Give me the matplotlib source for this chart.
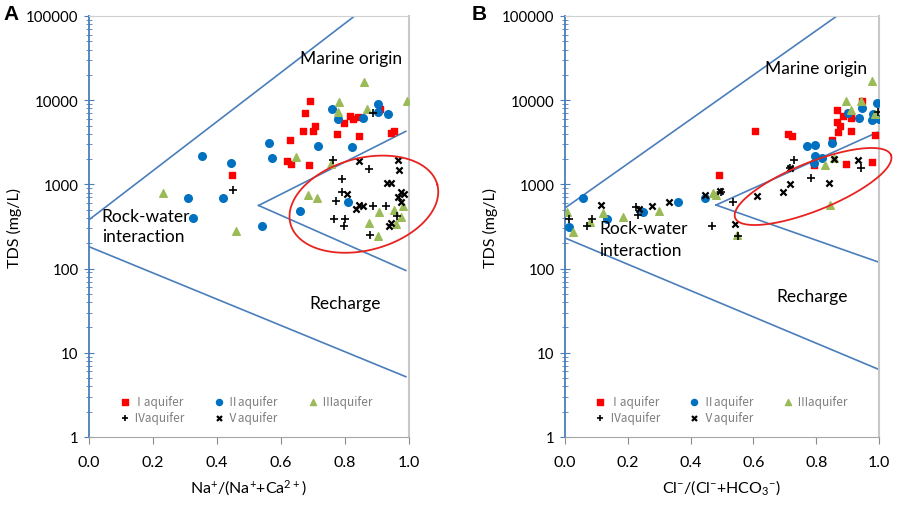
import numpy as np
import matplotlib
matplotlib.use('Agg')
import matplotlib.pyplot as plt
from matplotlib import ticker

plt.rcParams['font.family'] = ['Lato', 'DejaVu Sans']
plt.rcParams['mathtext.default'] = 'regular'

# ---- panel A : Na+/(Na+ + Ca2+) vs TDS ----
a_I_x = [0.691, 0.675, 0.706, 0.700, 0.669, 0.628, 0.619, 0.631, 0.688, 0.447,
         0.775, 0.797, 0.816, 0.825, 0.844, 0.841, 0.909, 0.944, 0.953]
a_I_tds = [9800, 7050, 4930, 4300, 4300, 3370, 1900, 1750, 1700, 1290,
           3970, 5360, 6490, 5980, 3760, 6300, 7860, 4070, 4300]
a_II_x = [0.759, 0.778, 0.856, 0.903, 0.903, 0.934, 0.563, 0.716, 0.822,
          0.572, 0.353, 0.444, 0.309, 0.419, 0.325, 0.541, 0.659, 0.809]
a_II_tds = [7860, 5980, 6150, 9010, 7250, 6850, 3100, 2860, 2780,
            2060, 2170, 1790, 690, 690, 400, 320, 483, 618]
a_III_x = [0.859, 0.781, 0.778, 0.869, 0.994, 0.647, 0.756, 0.231, 0.684,
           0.713, 0.459, 0.906, 0.875, 0.903, 0.953, 0.975, 0.959, 0.981]
a_III_tds = [16400, 9530, 7250, 7860, 9770, 2110, 1750, 790, 750,
             690, 280, 470, 350, 244, 497, 410, 339, 553]
a_IV_x = [0.888, 0.450, 0.763, 0.791, 0.791, 0.772, 0.875, 0.888, 0.928,
          0.766, 0.800, 0.797, 0.878, 0.963]
a_IV_tds = [7050, 857, 1950, 1160, 812, 635, 1520, 553, 553,
            388, 388, 321, 250, 422]
a_V_x = [0.844, 0.966, 0.969, 0.931, 0.944, 0.806, 0.975, 0.966, 0.975,
         0.844, 0.856, 0.834, 0.944, 0.938, 0.984]
a_V_tds = [1900, 1950, 1480, 1040, 1040, 770, 812, 708, 618,
           569, 553, 510, 348, 321, 770]

# ---- panel B : Cl-/(Cl- + HCO3-) vs TDS ----
b_I_x = [0.605, 0.710, 0.723, 0.490, 0.866, 0.885, 0.866, 0.876, 0.869,
         0.911, 0.911, 0.850, 0.793, 0.895, 0.978, 0.987, 0.946, 0.901]
b_I_tds = [4310, 3970, 3760, 1290, 7650, 6490, 5510, 4940, 4190,
           4300, 6150, 3370, 1700, 1750, 1840, 3860, 9780, 7050]
b_II_x = [0.057, 0.134, 0.248, 0.360, 0.446, 0.013, 0.771, 0.796, 0.796, 0.818,
          0.793, 0.850, 0.901, 0.946, 0.936, 0.994, 0.981, 0.978, 1.0]
b_II_tds = [690, 388, 470, 618, 690, 312, 2860, 2940, 2170, 2060,
            1790, 3100, 7050, 8080, 6150, 9260, 6850, 5820, 5980]
b_III_x = [0.006, 0.025, 0.080, 0.121, 0.185, 0.299, 0.471, 0.481, 0.548,
           0.828, 0.844, 0.857, 0.895, 0.911, 0.943, 0.978, 0.987]
b_III_tds = [470, 272, 357, 457, 410, 483, 790, 748, 250,
             1700, 569, 2060, 9770, 7650, 9770, 16900, 6850]
b_IV_x = [0.013, 0.070, 0.086, 0.226, 0.232, 0.468, 0.497, 0.535, 0.551,
          0.729, 0.717, 0.783, 0.943, 0.997]
b_IV_tds = [388, 321, 388, 540, 433, 321, 812, 618, 244,
            1950, 1570, 1190, 1570, 7250]
b_V_x = [0.115, 0.236, 0.277, 0.331, 0.446, 0.494, 0.541, 0.611, 0.694,
         0.717, 0.717, 0.841, 0.857, 0.933]
b_V_tds = [569, 510, 553, 618, 748, 835, 339, 728, 812,
           1010, 1570, 1040, 2000, 1950]

# boundary lines (x, TDS)
a_upper = ([0.0, 0.83], [380, 100000])
a_lower = ([0.0, 0.99], [182, 5.2])
a_v_up = ([0.53, 0.99], [562, 4270])
a_v_low = ([0.53, 0.99], [562, 95])
b_upper = ([0.005, 0.866], [540, 100000])
b_lower = ([0.0, 0.997], [231, 6.4])
b_v_up = ([0.481, 0.997], [569, 4190])
b_v_low = ([0.481, 0.997], [569, 120])

labels = ['Ⅰaquifer', 'Ⅱaquifer', 'Ⅲaquifer', 'Ⅳaquifer', 'Ⅴaquifer']

blue = '#4a7ebb'
fig = plt.figure(figsize=(9.13, 5.10), dpi=100)
axA = fig.add_axes([89 / 913, 72 / 510, 320 / 913, 421 / 510])
axB = fig.add_axes([565 / 913, 72 / 510, 314 / 913, 421 / 510])


def ellipse(ax, cx, cy, w, h, ang):
    # cx, cy in axes fraction; w, h in pixels
    bb = ax.get_position()
    pw, ph = bb.width * 913, bb.height * 510
    t = np.linspace(0, 2 * np.pi, 200)
    a = np.deg2rad(ang)
    ex = w / 2 * np.cos(t)
    ey = h / 2 * np.sin(t)
    px = ex * np.cos(a) - ey * np.sin(a)
    py = ex * np.sin(a) + ey * np.cos(a)
    ax.plot(cx + px / pw, cy + py / ph, color='#e8231f', lw=1.3,
            transform=ax.transAxes, clip_on=False, zorder=4)


def panel(ax, data, lines, xlabel):
    ax.set_yscale('log')
    ax.set_ylim(1, 100000)
    ax.set_xlim(0, 1)
    for lx, ly in lines:
        ax.plot(lx, ly, color=blue, lw=1.2, zorder=2)
    styles = [dict(marker='s', color='#ff0000', s=22),
              dict(marker='o', color='#0070c0', s=30),
              dict(marker='^', color='#9bbb59', s=30),
              dict(marker='+', color='black', s=30, linewidths=1.2),
              dict(marker='x', color='black', s=20, linewidths=1.6)]
    hs = []
    for (x, y), st, lab in zip(data, styles, labels):
        hs.append(ax.scatter(x, y, label=lab, zorder=3, **st))
    order = [0, 3, 1, 4, 2]
    leg = ax.legend([hs[i] for i in order], [labels[i] for i in order], ncol=3,
                    loc='lower left', bbox_to_anchor=(0.06, 0.005), frameon=False,
                    handletextpad=0.2, columnspacing=2.4, labelspacing=0.3,
                    markerscale=0.8, handlelength=1.0,
                    prop={'family': ['Noto Sans CJK SC', 'DejaVu Sans'], 'size': 8.5})
    for t in leg.get_texts():
        t.set_color('#7f7f7f')
    ax.yaxis.set_major_locator(ticker.LogLocator(base=10, numticks=10))
    ax.yaxis.set_minor_locator(ticker.LogLocator(base=10, subs=np.arange(2, 10), numticks=10))
    ax.yaxis.set_major_formatter(ticker.FuncFormatter(lambda v, _: f'{int(round(v))}'))
    ax.yaxis.set_minor_formatter(ticker.NullFormatter())
    ax.set_xticks(np.arange(0, 1.01, 0.2))
    ax.xaxis.set_major_formatter(ticker.FormatStrFormatter('%.1f'))
    ax.tick_params(axis='y', which='major', direction='inout', length=7, color=blue,
                   labelsize=10.8, pad=4)
    ax.tick_params(axis='y', which='minor', direction='inout', length=4, color=blue)
    ax.tick_params(axis='x', direction='out', length=5, color='#8c8c8c',
                   labelsize=11.5, pad=8)
    ax.spines['left'].set_color(blue)
    ax.spines['left'].set_linewidth(1.3)
    ax.spines['bottom'].set_color('#a6a6a6')
    ax.spines['top'].set_color('#d0d0d0')
    ax.spines['right'].set_color('#c8c8c8')
    ax.spines['right'].set_linewidth(1.5)
    ax.set_ylabel('TDS (mg/L)', fontsize=11.5, labelpad=3)
    ax.set_xlabel(xlabel, fontsize=11.5, labelpad=6)


panel(axA, [(a_I_x, a_I_tds), (a_II_x, a_II_tds), (a_III_x, a_III_tds),
            (a_IV_x, a_IV_tds), (a_V_x, a_V_tds)],
      [a_upper, a_lower, a_v_up, a_v_low], 'Na$^{+}$/(Na$^{+}$+Ca$^{2+}$)')
panel(axB, [(b_I_x, b_I_tds), (b_II_x, b_II_tds), (b_III_x, b_III_tds),
            (b_IV_x, b_IV_tds), (b_V_x, b_V_tds)],
      [b_upper, b_lower, b_v_up, b_v_low], 'Cl$^{-}$/(Cl$^{-}$+HCO$_{3}$$^{-}$)')

fs = 12.5
axA.text(0.82, 31600, 'Marine origin', ha='center', va='center', fontsize=fs)
axA.text(0.04, 320, 'Rock-water\ninteraction', ha='left', va='center', fontsize=fs,
         linespacing=1.35)
axA.text(0.80, 39, 'Recharge', ha='center', va='center', fontsize=fs)
axB.text(0.80, 24000, 'Marine origin', ha='center', va='center', fontsize=fs)
axB.text(0.11, 225, 'Rock-water\ninteraction', ha='left', va='center', fontsize=fs,
         linespacing=1.45)
axB.text(0.787, 47, 'Recharge', ha='center', va='center', fontsize=fs)

ellipse(axA, 0.859, 0.553, 152, 92, 15)
ellipse(axB, 0.790, 0.595, 168, 48, 22)

fig.text(3 / 913, 1 - 15 / 510, 'A', fontsize=15, fontweight='bold',
         family=['Liberation Sans', 'DejaVu Sans'], ha='left', va='center')
fig.text(472 / 913, 1 - 15 / 510, 'B', fontsize=15, fontweight='bold',
         family=['Liberation Sans', 'DejaVu Sans'], ha='left', va='center')

fig.savefig('out.png', dpi=100)
